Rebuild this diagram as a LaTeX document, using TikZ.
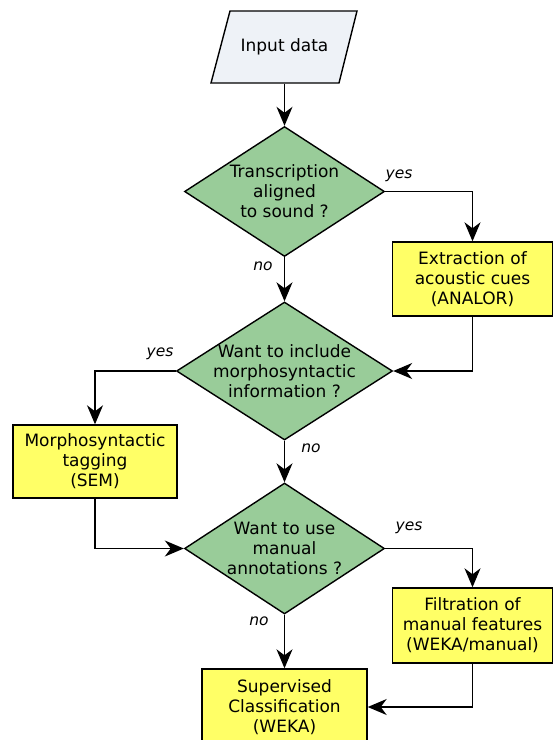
\documentclass[tikz,border=0pt]{standalone}
\usepackage{fontspec}
\setmainfont{DejaVu Sans}
\usetikzlibrary{shapes.geometric,arrows.meta}
\definecolor{ygold}{RGB}{255,255,102}
\definecolor{dgreen}{RGB}{153,204,153}
\definecolor{inblue}{RGB}{238,242,247}
\newcommand{\mainfs}{\fontsize{17}{20}\selectfont}
\newcommand{\lblfs}{\fontsize{15.5}{18}\selectfont\itshape}
\begin{document}
\begin{tikzpicture}[x=1pt,y=-1pt,
  >={Stealth[length=19pt,width=16pt,inset=6pt]},
  line width=1.4pt,
  box/.style={draw, fill=ygold, inner sep=0pt, align=center, font=\mainfs},
  dia/.style={draw, diamond, fill=dgreen, inner sep=0pt},
  txt/.style={align=center, font=\mainfs, inner sep=0pt},
  lbl/.style={font=\lblfs, inner sep=0pt}]
\useasboundingbox (0,0) rectangle (553,740);
\clip (0,0) rectangle (553,740);
% input parallelogram
\draw[fill=inblue] (230,11) -- (357,11) -- (339,83) -- (211,83) -- cycle;
\node[txt, minimum height=72pt] (in) at (284.5,47) {Input data};
% diamonds
\node[dia, minimum width=200pt, minimum height=130pt] (d1) at (284.5,191.5) {};
\node[txt] at (d1) {Transcription\\aligned\\to sound ?};
\node[dia, minimum width=216pt, minimum height=138pt] (d2) at (284.5,371) {};
\node[txt] at (d2) {Want to include\\morphosyntactic\\information ?};
\node[dia, minimum width=200pt, minimum height=131pt] (d3) at (284.5,548.5) {};
\node[txt] at (d3) {Want to use\\manual\\annotations ?};
% boxes
\node[box, minimum width=160pt, minimum height=74pt] (ext) at (472.5,279) {Extraction of\\acoustic cues\\(ANALOR)};
\node[box, minimum width=164pt, minimum height=73pt] (sem) at (95,461.5) {Morphosyntactic\\tagging\\(SEM)};
\node[box, minimum width=160pt, minimum height=75pt] (filt) at (472.5,625.5) {Filtration of\\manual features\\(WEKA/manual)};
\node[box, minimum width=165pt, minimum height=76pt] (sup) at (284.5,707) {Supervised\\Classification\\(WEKA)};
% connectors
\draw[->] (in.south) -- (d1.north);
\draw[->] (d1.east) -| (ext.north);
\draw[->] (d1.south) -- (d2.north);
\draw[->] (ext.south) |- (d2.east);
\draw[->] (d2.west) -| (sem.north);
\draw[->] (d2.south) -- (d3.north);
\draw[->] (sem.south) |- (d3.west);
\draw[->] (d3.east) -| (filt.north);
\draw[->] (d3.south) -- (sup.north);
\draw[->] (filt.south) |- (sup.east);
% labels
\node[lbl] (y1) at (399,176) {yes};
\node[lbl] (n1) at (263,266) {no};
\node[lbl] (y2) at (160,354) {yes};
\node[lbl] (n2) at (311,448) {no};
\node[lbl] (y3) at (409,528) {yes};
\node[lbl] (n3) at (259,621) {no};
\end{tikzpicture}
\end{document}
